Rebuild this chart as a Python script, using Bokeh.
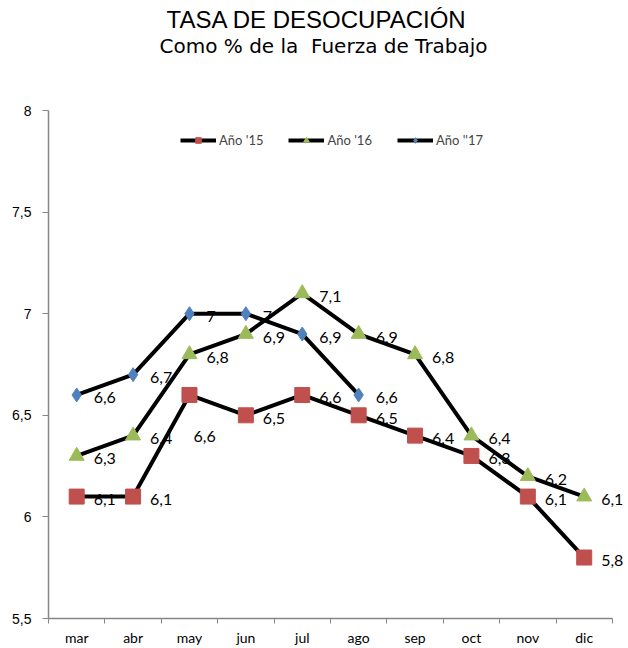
from bokeh.plotting import figure
from bokeh.models import (FixedTicker, CustomJSTickFormatter, Title, Legend, LegendItem,
                          ColumnDataSource, Range1d, LabelSet)
from bokeh.embed import file_html
from bokeh.resources import INLINE
from bokeh.core.properties import value

# ---- data ----
months = ["mar", "abr", "may", "jun", "jul", "ago", "sep", "oct", "nov", "dic"]
y2015 = [6.1, 6.1, 6.6, 6.5, 6.6, 6.5, 6.4, 6.3, 6.1, 5.8]
y2016 = [6.3, 6.4, 6.8, 6.9, 7.1, 6.9, 6.8, 6.4, 6.2, 6.1]
y2017 = [6.6, 6.7, 7.0, 7.0, 6.9, 6.6]
series_names = ["Año '15", "Año '16", "Año ''17"]
y_ticks = [5.5, 6.0, 6.5, 7.0, 7.5, 8.0]

AXIS = "#868686"
LABEL_FONT = "Lato"

# a little room right of the last category so the data labels are not clipped
p = figure(width=628, height=648,
           x_range=Range1d(0, len(months) + 0.25), y_range=Range1d(y_ticks[0], y_ticks[-1]),
           output_backend="svg", toolbar_location=None,
           min_border_left=48, min_border_right=2, min_border_bottom=27, min_border_top=0)
p.outline_line_color = None
p.xgrid.visible = False
p.ygrid.visible = False

# titles (nearest to frame first)
p.add_layout(Title(text=" ", text_font_size="1px", standoff=39), "above")
p.add_layout(Title(text="Como % de la\u00a0 Fuerza de Trabajo", align="left",
                   text_font="DejaVu Sans", text_font_size="20px",
                   text_font_style="normal", text_color="#000000", standoff=21, offset=111), "above")
p.add_layout(Title(text="TASA DE DESOCUPACIÓN", align="left",
                   text_font="Liberation Sans", text_font_size="24px",
                   text_font_style="normal", text_color="#000000", standoff=-23, offset=118), "above")
p.add_layout(Title(text=" ", text_font_size="1px", standoff=12), "above")

# axes
xpos = [i + 0.5 for i in range(len(months))]
p.xaxis.bounds = (0, len(months))
p.xaxis.ticker = FixedTicker(ticks=xpos, minor_ticks=list(range(len(months) + 1)))
p.xaxis.formatter = CustomJSTickFormatter(args=dict(m=months), code="return m[Math.floor(tick)];")
p.xaxis.major_tick_line_color = None
p.xaxis.minor_tick_line_color = AXIS
p.xaxis.minor_tick_out = 5
p.xaxis.minor_tick_in = 0
p.xaxis.axis_line_color = AXIS
p.xaxis.axis_line_width = 1.5
p.xaxis.major_label_standoff = 4
p.xaxis.major_label_text_font = LABEL_FONT
p.xaxis.major_label_text_font_size = "14px"
p.xaxis.major_label_text_color = "#000000"

p.yaxis.ticker = FixedTicker(ticks=y_ticks, minor_ticks=[])
p.yaxis.formatter = CustomJSTickFormatter(code="return tick.toString().replace('.', ',');")
p.yaxis.major_tick_line_color = AXIS
p.yaxis.major_tick_out = 6
p.yaxis.major_tick_in = 0
p.yaxis.minor_tick_line_color = None
p.yaxis.axis_line_color = AXIS
p.yaxis.axis_line_width = 1.5
p.yaxis.major_label_standoff = 11
p.yaxis.major_label_text_font = "Liberation Sans"
p.yaxis.major_label_text_font_size = "14px"
p.yaxis.major_label_text_color = "#000000"

colors = ["#C0504D", "#9BBB59", "#4F81BD"]
markers = ["square", "triangle", "diamond"]
sizes = [15, 15, 14]
all_series = [y2015, y2016, y2017]

items = []
for name, ys, col, mk, sz in zip(series_names, all_series, colors, markers, sizes):
    xs = xpos[:len(ys)]
    labels = [("%g" % v).replace(".", ",") for v in ys]
    xo = [17] * len(ys)
    yo = [-3] * len(ys)
    if ys is y2015:
        # Excel placed the May label below its marker
        xo[2] = 4
        yo[2] = -42
    src = ColumnDataSource(dict(x=xs, y=ys, t=labels, xo=xo, yo=yo))
    p.add_layout(LabelSet(x="x", y="y", text="t", x_offset="xo", y_offset="yo", source=src,
                          text_font=value(LABEL_FONT), text_font_size=value("16px"),
                          text_color=value("#000000"),
                          text_baseline=value("middle"), text_align=value("left")))
    ln = p.line(x="x", y="y", source=src, line_color="black", line_width=4)
    sc = p.scatter(x="x", y="y", source=src, marker=mk, size=sz,
                   fill_color=col, line_color=col)
    items.append(LegendItem(label=name, renderers=[ln, sc]))

legend = Legend(items=items, orientation="horizontal", location=(132, 470),
                border_line_color=None, background_fill_alpha=0,
                label_text_font=LABEL_FONT, label_text_font_size="13px",
                glyph_width=36, glyph_height=14, label_standoff=3, spacing=25,
                padding=0, margin=0)
p.add_layout(legend)

open("out.html", "w").write(file_html(p, INLINE))
